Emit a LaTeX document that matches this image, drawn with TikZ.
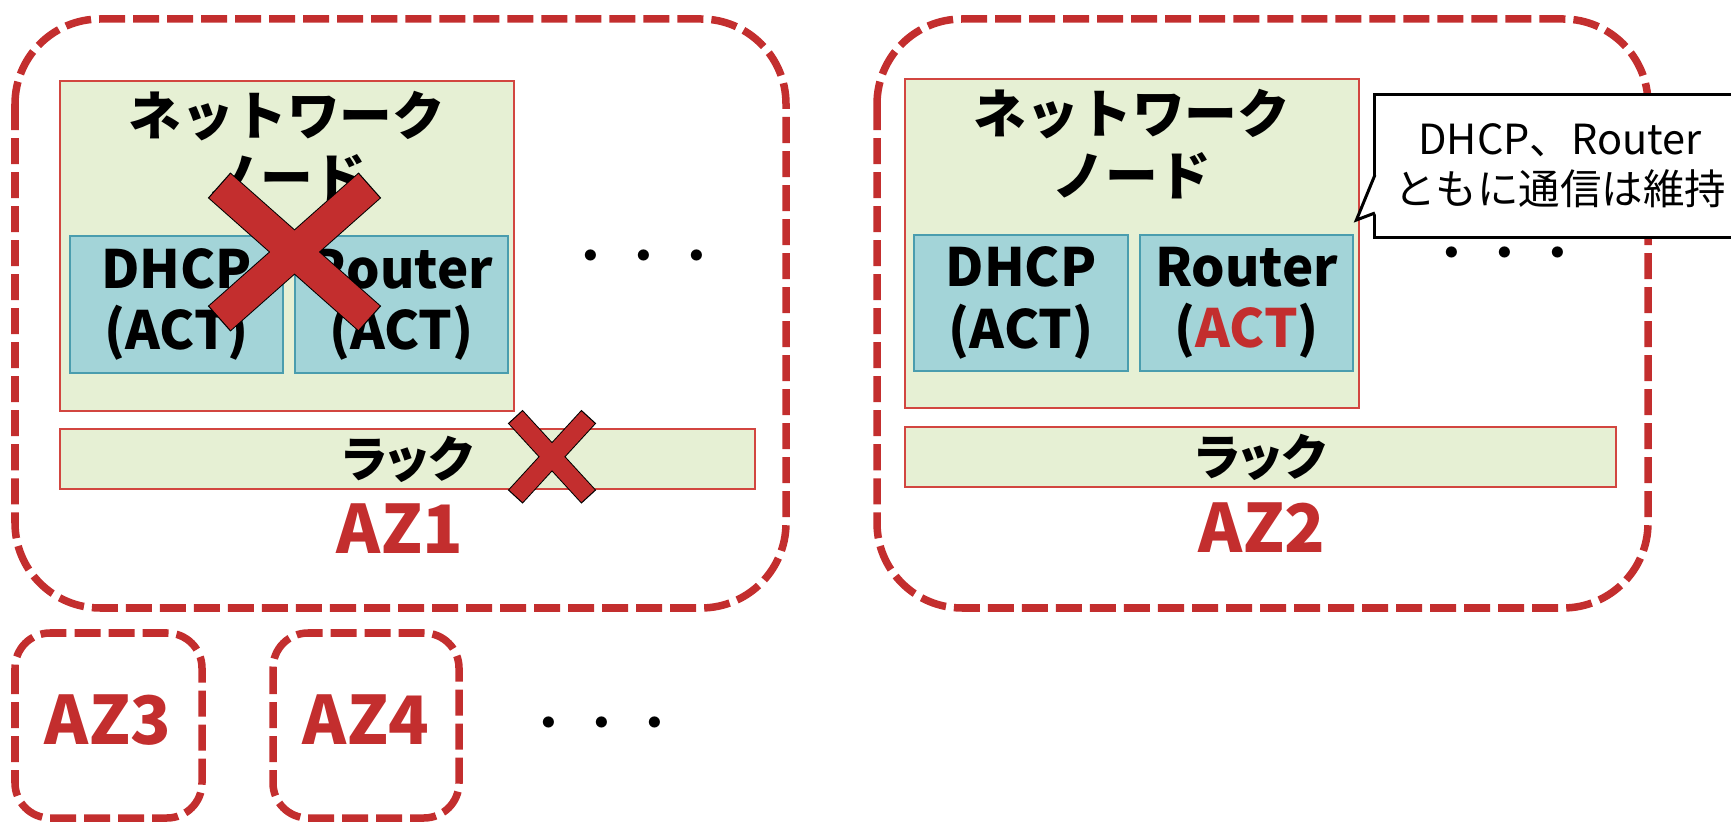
\documentclass[tikz,border=0pt]{standalone}
\usepackage{fontspec}
\setmainfont{Noto Sans CJK JP}
\newfontfamily\rackfont{Noto Sans CJK JP}[RawFeature=+palt]
\usepackage{xcolor}
\usetikzlibrary{calc}

\definecolor{azred}{RGB}{195,46,46}
\definecolor{nodegreen}{RGB}{230,240,212}
\definecolor{nodeedge}{RGB}{210,70,64}
\definecolor{svcblue}{RGB}{163,212,216}
\definecolor{svcedge}{RGB}{74,157,174}

\tikzset{
	az/.style={draw=azred, line width=0.075cm, dash pattern=on 0.26cm off 0.08cm},
	azname/.style={text=azred, font=\fontsize{19}{22}\selectfont\bfseries},
	nodebox/.style={draw=nodeedge, fill=nodegreen, line width=0.02cm,
		minimum width=4.54cm, minimum height=3.3cm},
	nodetitle/.style={align=center, font=\fontsize{15}{17.4}\selectfont\bfseries},
	svcbox/.style={draw=svcedge, fill=svcblue, line width=0.02cm, inner sep=0pt,
		minimum width=2.13cm, minimum height=1.37cm, align=center,
		font=\fontsize{15}{17.4}\selectfont\bfseries},
	rackbox/.style={draw=nodeedge, fill=nodegreen, line width=0.02cm, inner sep=0pt,
		minimum height=0.6cm, font=\rackfont\fontsize{14}{16}\selectfont\bfseries},
	dots/.style={font=\fontsize{15}{17}\selectfont},
	xedge/.style={draw=black, line width=#1, shorten <=-0.012cm, shorten >=-0.012cm},
	xbar/.style={draw=azred, line width=#1},
	note/.style={draw=black, fill=white, line width=0.03cm,
		minimum width=3.7cm, minimum height=1.42cm, align=center,
		font=\fontsize{11.8}{14.2}\selectfont}
}

\begin{document}
\begin{tikzpicture}[x=0.01cm, y=-0.01cm]
	\useasboundingbox (0,0) rectangle (1731,822);
	\clip (0,0) rectangle (1731,822);
	
	% Availability zones
	\draw[az, rounded corners=0.85cm] (15,19) rectangle (786,608);
	\draw[az, rounded corners=0.85cm] (877,19) rectangle (1648,608);
	\draw[az, rounded corners=0.35cm] (15,633) rectangle (202,818);
	\draw[az, rounded corners=0.35cm] (273,633) rectangle (459,818);
	
	% AZ1
	\node[nodebox] (net1) at (287,246) {};
	\node[nodetitle] (net1title) at (287,146) {ネットワーク\\ノード};
	\node[svcbox] (dhcp1) at (176.5,304.5) {DHCP\\(ACT)};
	\node[svcbox] (router1) at (401.5,304.5) {Router\\(ACT)};
	\node[rackbox, minimum width=6.95cm] (rack1) at (407.5,459) {ラック};
	\node[azname] (az1name) at (400,529) {AZ1};
	\node[dots] (dots1) at (644,263) {・・・};
	
	% AZ2
	\node[nodebox, minimum height=3.29cm] (net2) at (1132,243.5) {};
	\node[nodetitle] (net2title) at (1132,144) {ネットワーク\\ノード};
	\node[svcbox, minimum height=1.36cm] (dhcp2) at (1021,303) {DHCP\\(ACT)};
	\node[svcbox, minimum height=1.36cm] (router2) at (1246.5,303)
		{Router\\(\textcolor{azred}{ACT})};
	\node[rackbox, minimum width=7.11cm] (rack2) at (1260.5,457) {ラック};
	\node[azname] (az2name) at (1262,528) {AZ2};
	\node[dots] (dots2) at (1505,260) {・・・};
	
	% AZ3, AZ4 and the rest
	\node[azname] (az3name) at (108,720) {AZ3};
	\node[azname] (az4name) at (366,720) {AZ4};
	\node[dots] (dots3) at (602,730) {・・・};
	
	% Failed node
	\draw[xedge=0.34cm] (220,186) -- (369,318);
	\draw[xedge=0.34cm] (369,186) -- (220,318);
	\draw[xbar=0.32cm] (220,186) -- (369,318);
	\draw[xbar=0.32cm] (369,186) -- (220,318);
	
	% Failed rack
	\draw[xedge=0.2cm] (516,417.5) -- (588,496);
	\draw[xedge=0.2cm] (588,417.5) -- (516,496);
	\draw[xbar=0.18cm] (516,417.5) -- (588,496);
	\draw[xbar=0.18cm] (588,417.5) -- (516,496);
	
	% Callout
	\node[note] (note) at (1560,166) {DHCP、Router\\ともに通信は維持};
	\fill[white] ($(note.west)+(3,8)$) -- ($(note.west)+(-17,54)$)
		-- ($(note.west)+(3,48)$) -- cycle;
	\draw[line width=0.03cm] ($(note.west)+(1.5,9)$) -- ($(note.west)+(-17,54)$)
		-- ($(note.west)+(1.5,47)$);
	
\end{tikzpicture}
\end{document}
